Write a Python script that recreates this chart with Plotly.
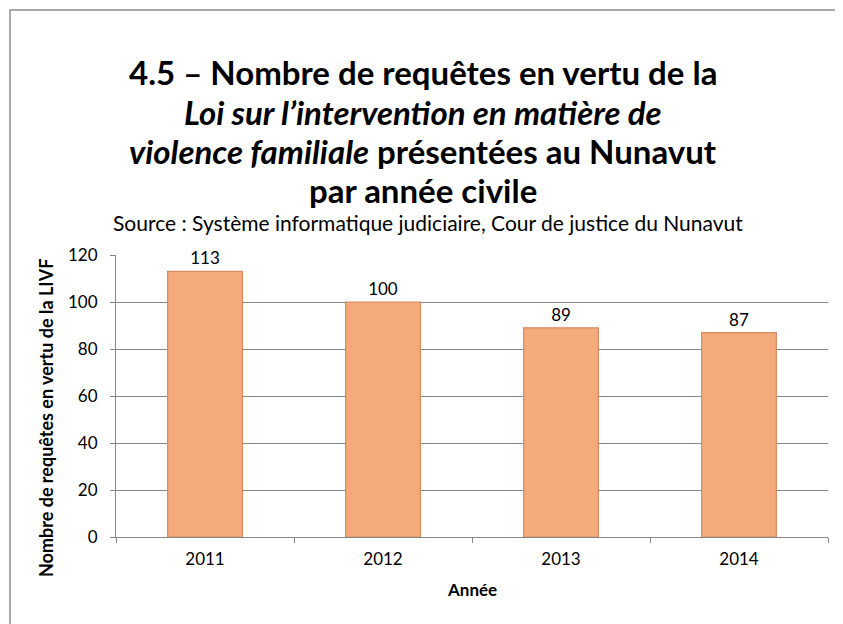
import plotly.graph_objects as go

years = ["2011", "2012", "2013", "2014"]
requests = [113, 100, 89, 87]
y_ticks = [0, 20, 40, 60, 80, 100, 120]
title_lines = [
    "4.5 – Nombre de requêtes en vertu de la",
    "<i>Loi sur l’intervention en matière de</i>",
    "<i>violence familiale</i> présentées au Nunavut",
    "par année civile",
]
source_text = "Source : Système informatique judiciaire, Cour de justice du Nunavut"
y_title = "Nombre de requêtes en vertu de la LIVF"
x_title = "Année"

FONT = "Lato"
# page renders with an 8px body offset; compensate in margins
OFF = 8
PL, PR, PT, PB = 116, 828, 255, 537  # target plot area in screenshot pixels
W, H = 843, 624


def px_x(x):
    return (x - PL) / (PR - PL)


def px_y(y):
    return (PB - y) / (PB - PT)


fig = go.Figure()
fig.add_trace(go.Bar(
    x=years, y=requests,
    text=[str(v) for v in requests],
    textposition="outside",
    textfont=dict(family=FONT, size=17, color="#000000"),
    cliponaxis=False,
    marker=dict(color="#F5AA7B", line=dict(color="#D58C62", width=1.2)),
    width=0.42,
))

fig.update_layout(
    width=W, height=H,
    paper_bgcolor="white", plot_bgcolor="white",
    margin=dict(l=PL - OFF, r=W + OFF - PR, t=PT - OFF, b=H + OFF - PB),
    showlegend=False,
    font=dict(family=FONT, size=17, color="#000000"),
)

for line, yc in zip(title_lines, [72, 112, 151, 190]):
    fig.add_annotation(
        text=line, xref="paper", yref="paper", x=px_x(423), y=px_y(yc),
        showarrow=False, xanchor="center", yanchor="middle",
        font=dict(family=FONT, size=33, color="#000000", weight="bold"),
    )

fig.add_annotation(
    text=source_text,
    xref="paper", yref="paper", x=px_x(428), y=px_y(222),
    showarrow=False, xanchor="center", yanchor="middle",
    font=dict(family=FONT, size=21, color="#000000"),
)

fig.add_annotation(
    text=y_title, textangle=-90,
    xref="paper", yref="paper", x=px_x(46), y=px_y(418),
    showarrow=False, xanchor="center", yanchor="middle",
    font=dict(family=FONT, size=18, color="#000000", weight="bold"),
)

fig.add_annotation(
    text=x_title,
    xref="paper", yref="paper", x=px_x(472), y=px_y(589),
    showarrow=False, xanchor="center", yanchor="middle",
    font=dict(family=FONT, size=17, color="#000000", weight="bold"),
)

fig.update_xaxes(
    showline=True, linecolor="#868686", linewidth=1,
    ticks="outside", tickson="boundaries", ticklen=5, tickcolor="#868686",
    tickfont=dict(family=FONT, size=17),
    ticklabelstandoff=7,
)
fig.update_yaxes(
    range=[0, 120], tickvals=y_ticks,
    showline=True, linecolor="#868686", linewidth=1,
    showgrid=True, gridcolor="#868686", gridwidth=1,
    ticks="outside", ticklen=5, tickcolor="#868686",
    tickfont=dict(family=FONT, size=17),
    ticklabelstandoff=9,
    zeroline=False,
)

fig.add_shape(type="rect", xref="paper", yref="paper",
              x0=px_x(10), x1=px_x(880),
              y0=px_y(660), y1=px_y(10),
              line=dict(color="#8C8C8C", width=1.5), fillcolor="rgba(0,0,0,0)", layer="below")

fig.write_html("out.html")
